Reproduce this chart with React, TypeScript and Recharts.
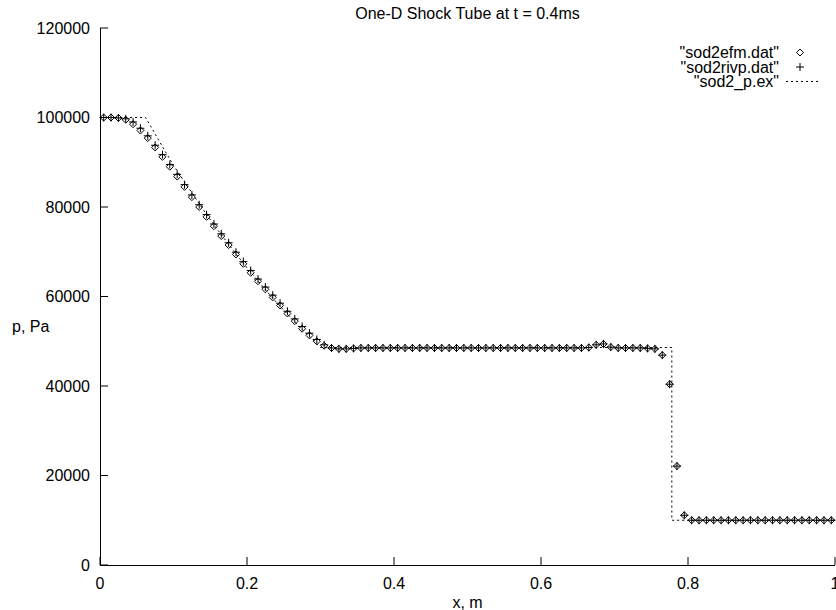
import { ComposedChart, Scatter, XAxis, YAxis } from 'recharts'

// cell centres of the 100-cell grid
const cellX = [
  0.005, 0.015, 0.025, 0.035, 0.045, 0.055, 0.065, 0.075, 0.085, 0.095,
  0.105, 0.115, 0.125, 0.135, 0.145, 0.155, 0.165, 0.175, 0.185, 0.195,
  0.205, 0.215, 0.225, 0.235, 0.245, 0.255, 0.265, 0.275, 0.285, 0.295,
  0.305, 0.315, 0.325, 0.335, 0.345, 0.355, 0.365, 0.375, 0.385, 0.395,
  0.405, 0.415, 0.425, 0.435, 0.445, 0.455, 0.465, 0.475, 0.485, 0.495,
  0.505, 0.515, 0.525, 0.535, 0.545, 0.555, 0.565, 0.575, 0.585, 0.595,
  0.605, 0.615, 0.625, 0.635, 0.645, 0.655, 0.665, 0.675, 0.685, 0.695,
  0.705, 0.715, 0.725, 0.735, 0.745, 0.755, 0.765, 0.775, 0.785, 0.795,
  0.805, 0.815, 0.825, 0.835, 0.845, 0.855, 0.865, 0.875, 0.885, 0.895,
  0.905, 0.915, 0.925, 0.935, 0.945, 0.955, 0.965, 0.975, 0.985, 0.995,
]

// "sod2efm.dat" pressures (Pa)
const pEfm = [
  100000, 100000, 99900, 99500, 98500, 97100, 95400, 93300, 91200, 89000,
  86800, 84500, 82200, 80000, 77800, 75700, 73500, 71500, 69400, 67300,
  65300, 63400, 61600, 59800, 58000, 56200, 54500, 52800, 51300, 50000,
  49000, 48500, 48300, 48300, 48400, 48500, 48500, 48500, 48500, 48500,
  48500, 48500, 48500, 48500, 48500, 48500, 48500, 48500, 48500, 48500,
  48500, 48500, 48500, 48500, 48500, 48500, 48500, 48500, 48500, 48500,
  48500, 48500, 48500, 48500, 48500, 48500, 48600, 49200, 49400, 48700,
  48500, 48500, 48500, 48500, 48400, 48300, 46900, 40400, 22100, 11100,
  10000, 10000, 10000, 10000, 10000, 10000, 10000, 10000, 10000, 10000,
  10000, 10000, 10000, 10000, 10000, 10000, 10000, 10000, 10000, 10000,
]

// "sod2rivp.dat" pressures (Pa), sits a touch above efm in the fan
const pRivp = [
  100000, 100000, 99900, 99700, 99000, 97600, 95900, 93800, 91700, 89500,
  87300, 85000, 82700, 80500, 78300, 76200, 74000, 72000, 69900, 67800,
  65800, 63900, 62100, 60300, 58500, 56700, 55000, 53300, 51800, 50400,
  49200, 48500, 48300, 48300, 48400, 48500, 48500, 48500, 48500, 48500,
  48500, 48500, 48500, 48500, 48500, 48500, 48500, 48500, 48500, 48500,
  48500, 48500, 48500, 48500, 48500, 48500, 48500, 48500, 48500, 48500,
  48500, 48500, 48500, 48500, 48500, 48500, 48600, 49200, 49400, 48700,
  48500, 48500, 48500, 48500, 48400, 48300, 46900, 40400, 22100, 11100,
  10000, 10000, 10000, 10000, 10000, 10000, 10000, 10000, 10000, 10000,
  10000, 10000, 10000, 10000, 10000, 10000, 10000, 10000, 10000, 10000,
]

// "sod2_p.ex" exact solution knots
const exactX = [0, 0.062, 0.08, 0.1, 0.12, 0.14, 0.16, 0.18, 0.2, 0.22, 0.24, 0.26, 0.28, 0.3, 0.778, 0.778, 1]
const exactP = [100000, 100000, 94900, 89300, 84400, 79500, 74900, 70600, 66400, 62500, 58700, 55200, 51800, 48600, 48600, 10000, 10000]

const xTicks = [0, 0.2, 0.4, 0.6, 0.8, 1]
const pTicks = [0, 20000, 40000, 60000, 80000, 100000, 120000]
const legendLabels = ['"sod2efm.dat"', '"sod2rivp.dat"', '"sod2_p.ex"']

const FONT = '"Liberation Sans", Arial, Helvetica, sans-serif'
const TICK = 8

const efmRows = cellX.map((x, i) => ({ x, p: pEfm[i] }))
const rivpRows = cellX.map((x, i) => ({ x, p: pRivp[i] }))
const exactRows = exactX.map((x, i) => ({ x, p: exactP[i] }))

function Diamond({ cx, cy }: any) {
  if (cx == null || cy == null) return <g />
  const r = 3.5
  return <path d={`M${cx},${cy - r}L${cx + r},${cy}L${cx},${cy + r}L${cx - r},${cy}Z`} fill="none" stroke="#000" strokeWidth={1} />
}

function Plus({ cx, cy }: any) {
  if (cx == null || cy == null) return <g />
  const r = 4
  return <path d={`M${cx - r},${cy}H${cx + r}M${cx},${cy - r}V${cy + r}`} stroke="#000" strokeWidth={1} fill="none" />
}

const NoDot = () => <g />

function BottomTick({ x, y, payload }: any) {
  return (
    <g>
      <line x1={x} y1={y} x2={x} y2={y - TICK} stroke="#000" />
      <text x={x} y={y + 18} dy="0.35em" textAnchor="middle" fontSize={16} fontFamily={FONT} fill="#000">
        {String(payload.value)}
      </text>
    </g>
  )
}

function LeftTick({ x, y, payload }: any) {
  return (
    <g>
      <line x1={x} y1={y} x2={x + TICK} y2={y} stroke="#000" />
      <text x={x - 10} y={y} dy="0.35em" textAnchor="end" fontSize={16} fontFamily={FONT} fill="#000">
        {String(payload.value)}
      </text>
    </g>
  )
}

const TopTick = ({ x, y }: any) => <line x1={x} y1={y} x2={x} y2={y + TICK} stroke="#000" />
const RightTick = ({ x, y }: any) => <line x1={x} y1={y} x2={x - TICK} y2={y} stroke="#000" />

export default function App() {
  const axisLine = { stroke: '#000', strokeWidth: 1, shapeRendering: 'crispEdges' }
  return (
    <div style={{ position: 'absolute', left: 0, top: 0, width: 836, height: 610, background: '#fff' }}>
      <ComposedChart width={836} height={610} margin={{ top: 28, right: 1, bottom: 0, left: 0 }}>
        <XAxis xAxisId="b" type="number" dataKey="x" domain={[0, 1]} ticks={xTicks} interval={0}
          height={45} tickSize={0} tickMargin={0} tickLine={false} axisLine={axisLine} tick={<BottomTick />} />
        <XAxis xAxisId="t" orientation="top" type="number" dataKey="x" domain={[0, 1]} ticks={xTicks} interval={0}
          height={0} tickSize={0} tickMargin={0} tickLine={false} axisLine={axisLine} tick={<TopTick />} />
        <YAxis yAxisId="l" type="number" dataKey="p" domain={[0, 120000]} ticks={pTicks} interval={0}
          width={100} tickSize={0} tickMargin={0} tickLine={false} axisLine={axisLine} tick={<LeftTick />} />
        <YAxis yAxisId="r" orientation="right" type="number" dataKey="p" domain={[0, 120000]} ticks={pTicks} interval={0}
          width={0} tickSize={0} tickMargin={0} tickLine={false} axisLine={axisLine} tick={<RightTick />} />
        <Scatter name="sod2_p.ex" data={exactRows} xAxisId="b" yAxisId="l" dataKey="p"
          line={{ stroke: '#000', strokeWidth: 1, strokeDasharray: '2 3' }} shape={<NoDot />} isAnimationActive={false} />
        <Scatter name="sod2rivp.dat" data={rivpRows} xAxisId="b" yAxisId="l" dataKey="p" shape={<Plus />} isAnimationActive={false} />
        <Scatter name="sod2efm.dat" data={efmRows} xAxisId="b" yAxisId="l" dataKey="p" shape={<Diamond />} isAnimationActive={false} />
      </ComposedChart>
      <svg width={836} height={610} style={{ position: 'absolute', left: 0, top: 0, pointerEvents: 'none' }}
        fontFamily={FONT} fontSize={16} fill="#000">
        <text x={467.5} y={13} dy="0.35em" textAnchor="middle">One-D Shock Tube at t = 0.4ms</text>
        <text x={467.5} y={602} dy="0.35em" textAnchor="middle">x, m</text>
        <text x={12} y={326} dy="0.35em">p, Pa</text>
        {legendLabels.map((label, i) => {
          const cy = 52.5 + i * 14.5
          return (
            <g key={label}>
              <text x={779} y={cy} dy="0.35em" textAnchor="end">{label}</text>
              {i === 0 && <Diamond cx={800} cy={cy} />}
              {i === 1 && <Plus cx={800} cy={cy} />}
              {i === 2 && <line x1={786} y1={cy} x2={818} y2={cy} stroke="#000" strokeDasharray="2 3" />}
            </g>
          )
        })}
      </svg>
    </div>
  )
}
